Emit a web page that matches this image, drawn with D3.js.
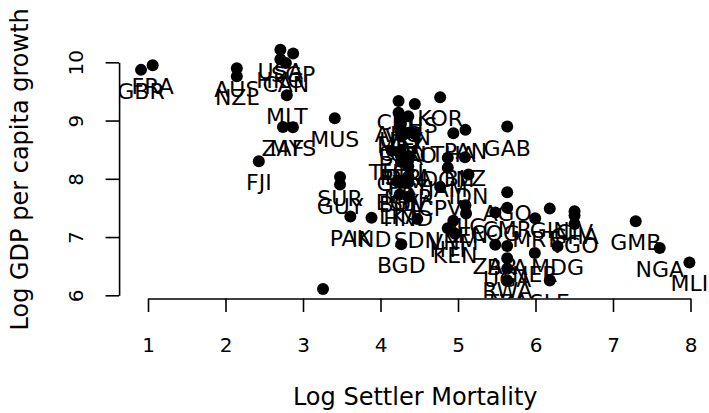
<!DOCTYPE html>
<html>
<head>
<meta charset="utf-8">
<script src="https://cdn.jsdelivr.net/npm/d3@7"></script>
<style>
  body { margin: 0; background: #fff; }
  svg { display: block; }
  text { font-family: "DejaVu Sans", sans-serif; fill: #000; }
</style>
</head>
<body>
<svg id="chart" width="709" height="413"></svg>
<script>
// Country codes with log settler mortality and log GDP per capita
const codes = [
  "GBR","FRA","AUS","NZL","USA","HKG","CAN","SGP","MLT","ZAF","MYS","FJI","MUS",
  "SUR","GUY","PAK","IND","ETH","BGD",
  "CHL","ARG","BHS","URY","VEN","MEX","COL","CRI","TTO","BRA","ECU","TUN","PER",
  "DZA","GTM","PRY","LKA","MAR","SLV","EGY","BOL","HND","SDN",
  "KOR","THA","PAN","DOM","BLZ","JAM","CPV","IDN","NIC","SEN","VNM","KEN","HTI",
  "GAB","AGO","CMR","COG","ZAR","BFA","UGA","RWA","TZA",
  "MRT","NER","GIN","SLE","MDG","CIV","GHA","TGO","GMB","NGA","MLI"
];
const logMortality = [
  0.91, 1.06, 2.146, 2.146, 2.708, 2.708, 2.779, 2.873, 2.791, 2.741, 2.870, 2.43, 3.41,
  3.478, 3.478, 3.611, 3.884, 3.258, 4.268,
  4.233, 4.233, 4.443, 4.263, 4.358, 4.263, 4.263, 4.358, 4.443, 4.263, 4.263, 4.145, 4.263,
  4.359, 4.263, 4.358, 4.248, 4.359, 4.358, 4.217, 4.263, 4.357, 4.475,
  4.77, 4.94, 5.096, 4.868, 5.09, 4.868, 4.77, 5.136, 5.096, 5.104, 4.94, 4.963, 4.868,
  5.635, 5.635, 5.635, 5.481, 5.481, 5.635, 5.635, 5.635, 5.635,
  5.996, 5.991, 6.184, 6.184, 6.284, 6.504, 6.504, 6.504, 7.293, 7.603, 7.986
];
const logGdp = [
  9.87, 9.95, 9.898, 9.760, 10.215, 10.051, 9.986, 10.153, 9.433, 8.890, 8.886, 8.30, 9.04,
  8.032, 7.901, 7.352, 7.330, 6.109, 6.877,
  9.336, 9.133, 9.285, 9.030, 9.072, 8.944, 8.807, 8.790, 8.770, 8.728, 8.469, 8.480, 8.398,
  8.393, 8.294, 8.214, 7.730, 8.044, 7.951, 7.954, 7.926, 7.690, 7.311,
  9.40, 8.78, 8.840, 8.363, 8.37, 8.190, 7.86, 8.072, 7.544, 7.404, 7.280, 7.056, 7.150,
  8.897, 7.771, 7.501, 7.422, 6.867, 6.846, 6.635, 6.458, 6.254,
  7.323, 6.725, 7.488, 6.254, 6.842, 7.444, 7.371, 7.223, 7.272, 6.813, 6.565
];
const xTicks = [1, 2, 3, 4, 5, 6, 7, 8];
const yTicks = [6, 7, 8, 9, 10];
const xTitle = "Log Settler Mortality";
const yTitle = "Log GDP per capita growth";

const svg = d3.select("#chart");

// scales: tick span in pixels
const x = d3.scaleLinear().domain([1, 8]).range([148, 690.5]);
const y = d3.scaleLinear().domain([6, 10]).range([295.3, 62.3]);

// plot region extends 4% beyond the data range on each side
const xr = d3.extent(logMortality), yr = d3.extent(logGdp);
const xPad = 0.04 * (xr[1] - xr[0]), yPad = 0.04 * (yr[1] - yr[0]);
const plotLeft = x(xr[0] - xPad), plotRight = x(xr[1] + xPad);
const plotTop = y(yr[1] + yPad), plotBottom = y(yr[0] - yPad);

svg.append("defs").append("clipPath").attr("id", "plotClip")
  .append("rect")
  .attr("x", plotLeft).attr("y", plotTop)
  .attr("width", plotRight - plotLeft).attr("height", plotBottom - plotTop);

const data = codes.map((c, i) => ({ code: c, mx: logMortality[i], gy: logGdp[i] }));

const plot = svg.append("g").attr("clip-path", "url(#plotClip)");

plot.selectAll("circle").data(data).join("circle")
  .attr("cx", d => x(d.mx))
  .attr("cy", d => y(d.gy))
  .attr("r", 6)
  .attr("fill", "#000");

plot.selectAll("text.lab").data(data).join("text")
  .attr("class", "lab")
  .attr("x", d => x(d.mx))
  .attr("y", d => y(d.gy) + 29)
  .attr("text-anchor", "middle")
  .style("font-size", "22px")
  .text(d => d.code);

// x axis
const xAxis = svg.append("g")
  .attr("transform", `translate(0,${plotBottom})`)
  .call(d3.axisBottom(x).tickValues(xTicks).tickSizeOuter(0).tickSizeInner(13.5).tickFormat(d3.format("d")));
xAxis.select(".domain").attr("stroke", "#000").attr("stroke-width", 1.6);
xAxis.selectAll(".tick line").attr("stroke", "#000").attr("stroke-width", 1.6);
xAxis.selectAll(".tick text")
  .attr("y", 352 - plotBottom).attr("dy", null)
  .style("font-size", "20px").attr("fill", "#000");

// y axis
const yAxis = svg.append("g")
  .attr("transform", `translate(${plotLeft},0)`)
  .call(d3.axisLeft(y).tickValues(yTicks).tickSizeOuter(0).tickSizeInner(13.5).tickFormat(d3.format("d")));
yAxis.select(".domain").attr("stroke", "#000").attr("stroke-width", 1.6);
yAxis.selectAll(".tick line").attr("stroke", "#000").attr("stroke-width", 1.6);
yAxis.selectAll(".tick text")
  .attr("x", null).attr("dy", null)
  .attr("text-anchor", "middle")
  .attr("transform", `translate(${83.3 - plotLeft},0) rotate(-90)`)
  .style("font-size", "20px").attr("fill", "#000");

svg.selectAll(".tick text").style("font-family", "'DejaVu Sans', sans-serif");

// axis titles
svg.append("text")
  .attr("x", (plotLeft + plotRight) / 2).attr("y", 405)
  .attr("text-anchor", "middle")
  .style("font-size", "24px")
  .text(xTitle);

svg.append("text")
  .attr("transform", `translate(28,${(plotTop + plotBottom) / 2}) rotate(-90)`)
  .attr("text-anchor", "middle")
  .style("font-size", "24px")
  .text(yTitle);
</script>
</body>
</html>
